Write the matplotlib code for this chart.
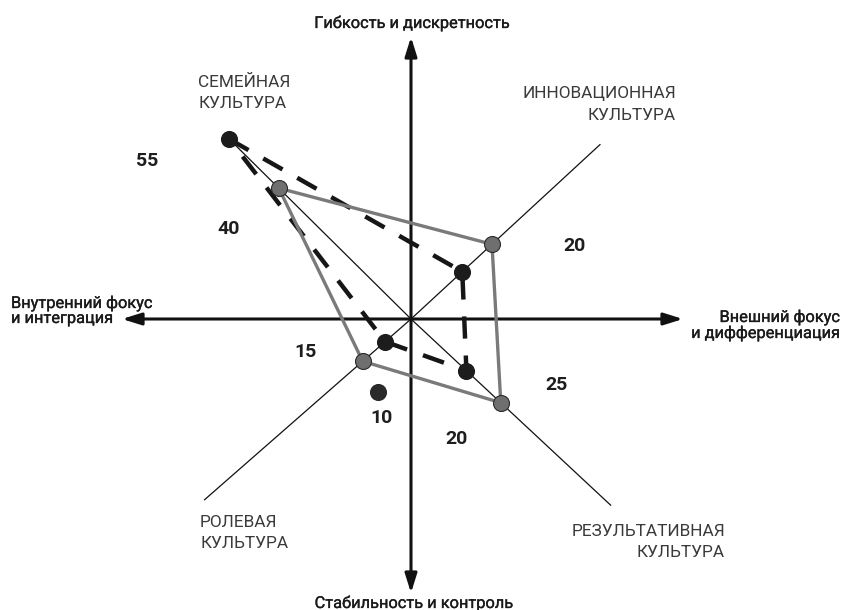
import numpy as np
import matplotlib
matplotlib.use('Agg')
import matplotlib.pyplot as plt
import matplotlib.patheffects as pe
from matplotlib.patches import FancyArrowPatch

plt.rcParams['font.family'] = ['Roboto', 'DejaVu Sans']

# --- data -------------------------------------------------------------
cultures = ['СЕМЕЙНАЯ\nКУЛЬТУРА', 'ИННОВАЦИОННАЯ\nКУЛЬТУРА',
            'РЕЗУЛЬТАТИВНАЯ\nКУЛЬТУРА', 'РОЛЕВАЯ\nКУЛЬТУРА']
angles = [135.3, 42.7, -43.0, -138.8]          # direction of each culture ray
ray_length = [55.0, 55.3, 58.7, 59.0]

gray_values = [40.0, 23.7, 26.4, 13.8]         # solid grey profile
black_values = [55.0, 15.0, 16.3, 7.4]         # dashed black profile
stray_value, stray_angle = 17.3, -114.2        # lone black dot

value_labels = ['55', '40', '20', '15', '10', '25', '20']

axis_top = 'Гибкость и дискретность'
axis_bottom = 'Стабильность и контроль'
axis_left = 'Внутренний фокус\nи интеграция'
axis_right = 'Внешний фокус\nи дифференциация'

# --- layout (pixels of the 845x610 picture) --------------------------
CX, CY, SCALE = 411, 319, 4.65


def px(x, y):
    return (x - CX) / SCALE, (CY - y) / SCALE


def polar(r, a):
    a = np.radians(a)
    return r * np.cos(a), r * np.sin(a)


def lines_text(ax, x, y, text, gap, **kw):
    # one text per line, y is baseline of first line (pixels)
    for i, line in enumerate(text.split('\n')):
        ax.text(*px(x, y + i * gap), line, va='baseline', **kw)


fig = plt.figure(figsize=(8.45, 6.1), dpi=100, facecolor='w')
ax = fig.add_axes([0, 0, 1, 1])
ax.set_xlim(-CX / SCALE, (845 - CX) / SCALE)
ax.set_ylim(-(610 - CY) / SCALE, CY / SCALE)
ax.axis('off')

# diagonal culture rays
for a, L in zip(angles, ray_length):
    x, y = polar(L, a)
    ax.plot([0, x], [0, y], color='#111111', lw=0.9, zorder=1)

# main axes with arrows
for p0, p1 in [(px(411, 593), px(411, 37)), (px(122, 319), px(683, 319))]:
    ax.add_patch(FancyArrowPatch(p0, p1, arrowstyle='<|-|>,head_length=1.15,head_width=0.36',
                                 mutation_scale=10, color='#111111', lw=2.2,
                                 shrinkA=0, shrinkB=0, zorder=2))

# profiles
bx, by = zip(*[polar(r, a) for r, a in zip(black_values, angles)])
gx, gy = zip(*[polar(r, a) for r, a in zip(gray_values, angles)])
ax.plot(list(bx) + [bx[0]], list(by) + [by[0]], color='#161616', lw=3.2,
        linestyle=(0, (5, 3.8)), dash_capstyle='butt', zorder=3)
ax.plot(list(gx) + [gx[0]], list(gy) + [gy[0]], color='#7a7a7a', lw=2.4, zorder=4)
ax.plot(gx, gy, 'o', ms=11.5, mfc='#6f6f6f', mec='#2a2a2a', mew=0.8, zorder=5)
ax.plot(bx, by, 'o', ms=11.3, mfc='#1c1c1c', mec='#1c1c1c', zorder=6)
sx, sy = polar(stray_value, stray_angle)
ax.plot(sx, sy, 'o', ms=11.3, mfc='#2a2a2a', mec='#2a2a2a', zorder=6)

# axis titles (slightly heavier than regular)
ax_kw = dict(fontsize=11.8, color='#1a1a1a', fontweight='normal',
             path_effects=[pe.withStroke(linewidth=0.22, foreground='#1a1a1a')])
ax.text(*px(412, 28), axis_top, ha='center', va='baseline', **ax_kw)
ax.text(*px(414, 608), axis_bottom, ha='center', va='baseline', **ax_kw)
lines_text(ax, 11, 308, axis_left, 15, ha='left', **ax_kw)
lines_text(ax, 840, 322, axis_right, 16, ha='right', **ax_kw)

# culture names
cu_kw = dict(fontsize=12.4, color='#3a3a3a', fontweight='normal')
lines_text(ax, 198, 87, cultures[0], 21, ha='left', **cu_kw)
lines_text(ax, 676, 98, cultures[1], 22, ha='right', **cu_kw)
lines_text(ax, 725, 536, cultures[2], 21, ha='right', **cu_kw)
lines_text(ax, 200, 527, cultures[3], 21, ha='left', **cu_kw)

# value labels
label_pos = [(147, 166), (229, 234), (574, 251), (306, 357), (381, 423), (556, 390), (457, 444)]
for t, (x, y) in zip(value_labels, label_pos):
    ax.text(*px(x, y), t, ha='center', va='baseline', fontsize=14,
            fontweight='bold', color='#1e1e1e')

fig.savefig('out.png', dpi=100, facecolor='w')
